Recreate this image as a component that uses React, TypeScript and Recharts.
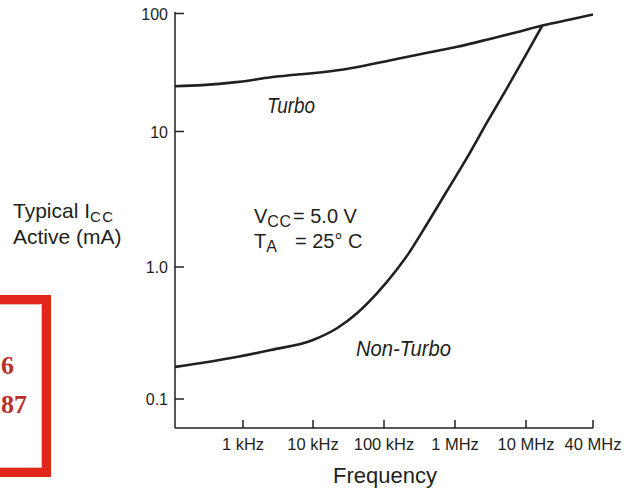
import React from 'react';
import { LineChart, Line, XAxis, YAxis } from 'recharts';

// ---- data ----
const TURBO_FREQ_HZ = [100, 250, 800, 2500, 22000, 170000, 440000, 1.07e6, 3.1e6, 8.2e6, 1.4e7, 2.5e7, 4e7];
const TURBO_MA = [24.2, 24.7, 26.2, 28.8, 33.0, 41.7, 46.9, 52.2, 60.9, 70.5, 79.0, 89.0, 98.0];

const NON_TURBO_FREQ_HZ = [100, 800, 2500, 10000, 22000, 42000, 80000, 150000, 220000, 350000, 770000, 1.5e6, 2.9e6, 5.4e6, 9.7e6, 1.4e7];
const NON_TURBO_MA = [0.175, 0.208, 0.235, 0.28, 0.345, 0.449, 0.635, 0.95, 1.25, 1.84, 3.64, 6.49, 12.3, 23.3, 43.4, 79.0];

const X_TICKS = [1e3, 1e4, 1e5, 1e6, 1e7, 4e7];
const X_TICK_LABELS = ['1 kHz', '10 kHz', '100 kHz', '1 MHz', '10 MHz', '40 MHz'];
const Y_TICKS = [0.1, 1, 10, 100];
const Y_TICK_LABELS = ['0.1', '1.0', '10', '100'];

const turboData = TURBO_FREQ_HZ.map((f, i) => ({ f, ma: TURBO_MA[i] }));
const nonTurboData = NON_TURBO_FREQ_HZ.map((f, i) => ({ f, ma: NON_TURBO_MA[i] }));

// The printed graph uses a hand-drawn log grid with unequal decades;
// this scale reproduces it (log interpolation between the printed ticks).
function makeBrokenLogScale(stops: number[], fracs: number[]): any {
  const logs = stops.map((s) => Math.log10(s));
  let dom: number[] = [stops[0], stops[stops.length - 1]];
  let rng: number[] = [0, 1];
  const scale: any = (v: number) => {
    const lv = Math.log10(v);
    let i = 0;
    while (i < logs.length - 2 && lv > logs[i + 1]) i++;
    const t = (lv - logs[i]) / (logs[i + 1] - logs[i]);
    const fr = fracs[i] + t * (fracs[i + 1] - fracs[i]);
    return rng[0] + fr * (rng[1] - rng[0]);
  };
  scale.domain = (d?: number[]) => {
    if (d === undefined) return dom.slice();
    dom = d.slice();
    return scale;
  };
  scale.range = (r?: number[]) => {
    if (r === undefined) return rng.slice();
    rng = r.slice();
    return scale;
  };
  scale.copy = () => makeBrokenLogScale(stops, fracs).domain(dom).range(rng);
  scale.ticks = () => stops.slice();
  scale.nice = () => scale;
  scale.clamp = () => scale;
  return scale;
}

const xScale = makeBrokenLogScale([100, 1e3, 1e4, 1e5, 1e6, 1e7, 4e7], [0, 68 / 418, 138 / 418, 209 / 418, 280 / 418, 351 / 418, 1]);
const yScale = makeBrokenLogScale([0.06, 0.1, 1, 10, 100], [0, 29 / 416, 161 / 416, 296.5 / 416, 414.5 / 416]);

const INK = '#231f20';
const SANS = "'Liberation Sans', Arial, Helvetica, sans-serif";
const SERIF = "'Liberation Serif', 'Times New Roman', serif";

const XTick = (props: any) => {
  const { x, payload } = props;
  const idx = X_TICKS.indexOf(payload.value);
  const y = 428;
  return (
    <g>
      <line x1={x} y1={y} x2={x} y2={y - 8} stroke={INK} strokeWidth={1.5} />
      <text x={x} y={y + 22} textAnchor="middle" fontSize={16.5} fontFamily={SANS} fill={INK}>
        {X_TICK_LABELS[idx]}
      </text>
    </g>
  );
};

const YTick = (props: any) => {
  const { y, payload } = props;
  const idx = Y_TICKS.indexOf(payload.value);
  const x = 175;
  return (
    <g>
      <line x1={x} y1={y} x2={x + 9} y2={y} stroke={INK} strokeWidth={1.5} />
      <text x={x - 7} y={y + 6} textAnchor="end" fontSize={16} fontFamily={SANS} fill={INK}>
        {Y_TICK_LABELS[idx]}
      </text>
    </g>
  );
};

export default function App() {
  return (
    <div style={{ position: 'absolute', left: 0, top: 0, width: 628, height: 495, background: '#fff', overflow: 'hidden' }}>
      <div style={{ position: 'absolute', left: 0, top: 0 }}>
        <LineChart width={628} height={495} data={turboData} margin={{ top: 12, right: 35, bottom: 7, left: 15 }}>
          <XAxis
            dataKey="f"
            type="number"
            scale={xScale}
            domain={[100, 4e7]}
            allowDataOverflow
            ticks={X_TICKS}
            interval={0}
            height={60}
            tickSize={0}
            tickMargin={0}
            tickLine={false}
            tick={<XTick />}
            axisLine={{ stroke: INK, strokeWidth: 1.5 }}
          />
          <YAxis
            dataKey="ma"
            type="number"
            scale={yScale}
            domain={[0.06, 100]}
            allowDataOverflow
            ticks={Y_TICKS}
            interval={0}
            width={160}
            tickSize={0}
            tickMargin={0}
            tickLine={false}
            tick={<YTick />}
            axisLine={{ stroke: INK, strokeWidth: 1.5 }}
          />
          <Line data={turboData} dataKey="ma" type="monotone" stroke={INK} strokeWidth={2.6} dot={false} isAnimationActive={false} />
          <Line data={nonTurboData} dataKey="ma" type="monotone" stroke={INK} strokeWidth={2.6} dot={false} isAnimationActive={false} />
        </LineChart>
      </div>

      <svg width={628} height={495} style={{ position: 'absolute', left: 0, top: 0, pointerEvents: 'none' }}>
        <text x={13} y={218} fontSize={21} fontFamily={SANS} fill={INK}>
          Typical I<tspan fontSize={15} dy={4} letterSpacing={1.5}>CC</tspan>
        </text>
        <text x={13} y={244} fontSize={21} fontFamily={SANS} fill={INK}>Active (mA)</text>

        <text x={267} y={113} fontSize={22} fontStyle="italic" fontFamily={SANS} fill={INK} textLength={48} lengthAdjust="spacingAndGlyphs">Turbo</text>
        <text x={356} y={356} fontSize={22} fontStyle="italic" fontFamily={SANS} fill={INK} textLength={95} lengthAdjust="spacingAndGlyphs">Non-Turbo</text>

        <text y={223} fontSize={20} fontFamily={SANS} fill={INK}>
          <tspan x={254}>V</tspan>
          <tspan fontSize={16} dy={4} letterSpacing={0.5}>CC</tspan>
          <tspan x={293} dy={-4}>= 5.0 V</tspan>
        </text>
        <text y={248} fontSize={20} fontFamily={SANS} fill={INK}>
          <tspan x={254}>T</tspan>
          <tspan fontSize={16} dy={4}>A</tspan>
          <tspan x={295} dy={-4}>= 25° C</tspan>
        </text>

        <text x={385} y={483} textAnchor="middle" fontSize={22} fontFamily={SANS} fill={INK}>Frequency</text>
      </svg>

      <div
        style={{
          position: 'absolute',
          left: -30,
          top: 295,
          width: 81,
          height: 182,
          boxSizing: 'border-box',
          border: '9px solid #e1261c',
          background: '#fff',
          boxShadow: 'inset 0 0 0 1px #f2b8b4',
        }}
      />
      <svg width={60} height={495} style={{ position: 'absolute', left: 0, top: 0, pointerEvents: 'none' }}>
        <text x={14} y={374} textAnchor="end" fontSize={26} fontWeight="bold" fontFamily={SERIF} fill="#b8302c">6</text>
        <text x={27} y={413} textAnchor="end" fontSize={26} fontWeight="bold" fontFamily={SERIF} fill="#b8302c">87</text>
      </svg>
    </div>
  );
}
